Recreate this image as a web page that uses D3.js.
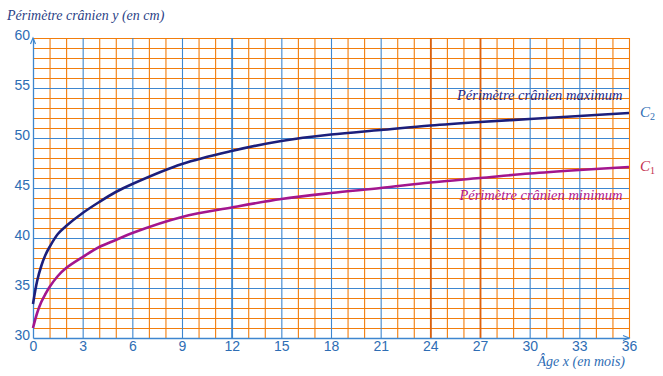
<!DOCTYPE html>
<html>
<head>
<meta charset="utf-8">
<script src="https://cdn.jsdelivr.net/npm/d3@7"></script>
<style>
  body { margin: 0; background: #fff; }
  svg { display: block; font-family: "Liberation Serif", serif; }
  .tick text { fill: #2e6db4; font-size: 14px; }
</style>
</head>
<body>
<div id="chart"></div>
<script>
// Données
const months = [0, 0.25, 0.5, 0.75, 1, 1.5, 2, 3, 4, 5, 6, 9, 12, 15, 18, 21, 24, 27, 30, 33, 36];
const perimMax = [33.4, 35.7, 37.2, 38.3, 39.1, 40.4, 41.2, 42.5, 43.6, 44.6, 45.4, 47.4, 48.7, 49.7, 50.35, 50.8, 51.25, 51.6, 51.9, 52.2, 52.5];
const perimMin = [31.0, 32.5, 33.6, 34.4, 35.1, 36.2, 37.0, 38.1, 39.1, 39.8, 40.5, 42.1, 43.05, 43.9, 44.5, 45.0, 45.55, 46.0, 46.45, 46.8, 47.1];
const xTicks = d3.range(0, 37, 3);
const yTicks = [30, 35, 40, 45, 50, 55, 60];

const width = 663, height = 376;
const margin = { top: 38, right: 34, bottom: 38, left: 33 };
const innerW = width - margin.left - margin.right;
const innerH = height - margin.top - margin.bottom;

const orange = "#f27d0c";
const blue = "#3d86cf";

const svg = d3.select("#chart").append("svg")
  .attr("width", width)
  .attr("height", height);

const g = svg.append("g")
  .attr("transform", `translate(${margin.left},${margin.top})`);

const x = d3.scaleLinear().domain([0, 36]).range([0, innerW]);
const y = d3.scaleLinear().domain([30, 60]).range([innerH, 0]);

// grille orange (chaque mois / chaque cm)
const xOrange = d3.range(1, 37).filter(d => d % 3 !== 0 || d === 36);
const yOrange = d3.range(31, 61).filter(d => d % 5 !== 0 || d === 60);

function gridLines(axis, cls, color, w) {
  const a = g.append("g").attr("class", cls).call(axis);
  a.select(".domain").remove();
  a.selectAll("line").attr("stroke", color).attr("stroke-width", w);
  return a;
}

gridLines(d3.axisBottom(x).tickValues(xOrange).tickSize(-innerH).tickFormat(""), "gx-o", orange, 1.1)
  .attr("transform", `translate(0,${innerH})`);
gridLines(d3.axisLeft(y).tickValues(yOrange).tickSize(-innerW).tickFormat(""), "gy-o", orange, 1.1);

// lignes bleues (tous les 3 mois / tous les 5 cm)
gridLines(d3.axisBottom(x).tickValues(xTicks.filter(d => d > 0 && d < 36)).tickSize(-innerH).tickFormat(""), "gx-b", blue, 1.1)
  .attr("transform", `translate(0,${innerH})`);
gridLines(d3.axisLeft(y).tickValues(yTicks.filter(d => d > 30 && d < 60)).tickSize(-innerW).tickFormat(""), "gy-b", blue, 1.1);

// lignes accentuées
gridLines(d3.axisBottom(x).tickValues([12]).tickSize(-innerH).tickFormat(""), "gx-12", blue, 1.8)
  .attr("transform", `translate(0,${innerH})`);
gridLines(d3.axisBottom(x).tickValues([24, 27]).tickSize(-innerH).tickFormat(""), "gx-24", "#e0620a", 1.8)
  .attr("transform", `translate(0,${innerH})`);

// axes
const xAxis = g.append("g")
  .attr("transform", `translate(0,${innerH})`)
  .call(d3.axisBottom(x).tickValues(xTicks).tickSize(0).tickPadding(3));
xAxis.select(".domain").attr("stroke", blue).attr("stroke-width", 1.3);

const yAxis = g.append("g")
  .call(d3.axisLeft(y).tickValues(yTicks).tickSize(0).tickPadding(3));
yAxis.select(".domain").attr("stroke", blue).attr("stroke-width", 1.3);
yAxis.selectAll(".tick text").attr("dy", "0.1em");

// flèches
g.append("path")
  .attr("d", `M${x(0) - 2.5},${y(60) + 6} L${x(0)},${y(60)} L${x(0) + 2.5},${y(60) + 6}`)
  .attr("fill", "none").attr("stroke", blue).attr("stroke-width", 1.2);
g.append("path")
  .attr("d", `M${x(36) - 6},${y(30) - 2.5} L${x(36)},${y(30)} L${x(36) - 6},${y(30) + 2.5}`)
  .attr("fill", "none").attr("stroke", blue).attr("stroke-width", 1.2);

// courbes
const line = d3.line()
  .x((d, i) => x(months[i]))
  .y(d => y(d))
  .curve(d3.curveCatmullRom.alpha(0.5));

g.append("path").datum(perimMax)
  .attr("d", line).attr("fill", "none")
  .attr("stroke", "#1c1f7c").attr("stroke-width", 2.6);
g.append("path").datum(perimMin)
  .attr("d", line).attr("fill", "none")
  .attr("stroke", "#a3168e").attr("stroke-width", 2.6);

// textes
svg.append("text")
  .attr("x", 7).attr("y", 20)
  .attr("font-style", "italic").attr("font-size", 14)
  .attr("fill", "#2b3f86")
  .text("Périmètre crânien y (en cm)");

svg.append("text")
  .attr("x", 625).attr("y", 366)
  .attr("text-anchor", "end")
  .attr("font-style", "italic").attr("font-size", 14)
  .attr("fill", "#2e6db4")
  .text("Âge x (en mois)");

g.append("text")
  .attr("x", x(35.6)).attr("y", y(54.3) + 5)
  .attr("text-anchor", "end")
  .attr("font-style", "italic").attr("font-size", 14.5)
  .attr("fill", "#1c2a8c")
  .text("Périmètre crânien maximum");

g.append("text")
  .attr("x", x(35.6)).attr("y", y(44.3) + 5)
  .attr("text-anchor", "end")
  .attr("font-style", "italic").attr("font-size", 14.5)
  .attr("fill", "#b0168e")
  .text("Périmètre crânien minimum");

const c2 = svg.append("text")
  .attr("x", 640).attr("y", 117)
  .attr("font-style", "italic").attr("font-size", 15)
  .attr("fill", "#2e6db4");
c2.append("tspan").text("C");
c2.append("tspan").attr("font-size", 10).attr("dy", 3).attr("font-style", "normal").text("2");

const c1 = svg.append("text")
  .attr("x", 640).attr("y", 171)
  .attr("font-style", "italic").attr("font-size", 15)
  .attr("fill", "#c4304e");
c1.append("tspan").text("C");
c1.append("tspan").attr("font-size", 10).attr("dy", 3).attr("font-style", "normal").text("1");
</script>
</body>
</html>
